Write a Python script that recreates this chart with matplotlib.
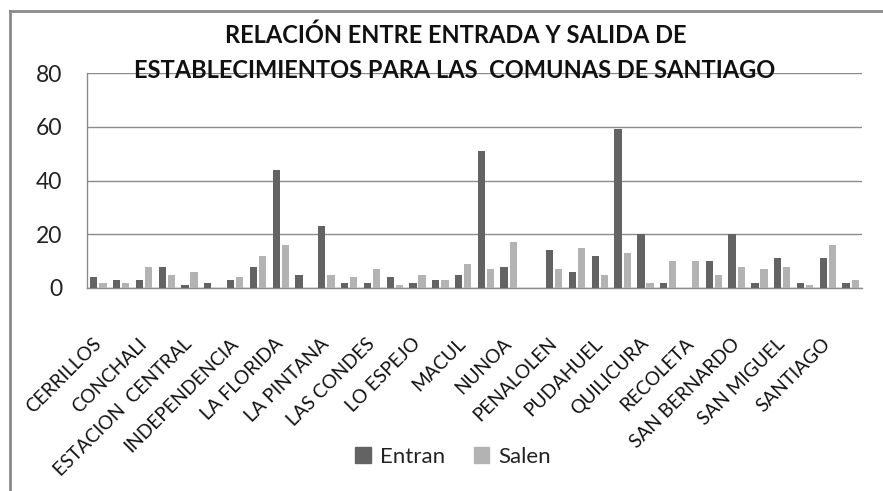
import numpy as np
import matplotlib
matplotlib.use('Agg')
import matplotlib.pyplot as plt
from matplotlib.lines import Line2D
from matplotlib.patches import Patch

plt.rcParams['font.family'] = ['Lato', 'DejaVu Sans']

comunas = ['CERRILLOS', 'CERRO NAVIA', 'CONCHALI', 'EL BOSQUE', 'ESTACION  CENTRAL',
           'HUECHURABA', 'INDEPENDENCIA', 'LA CISTERNA', 'LA FLORIDA', 'LA GRANJA',
           'LA PINTANA', 'LA REINA', 'LAS CONDES', 'LO BARNECHEA', 'LO ESPEJO',
           'LO PRADO', 'MACUL', 'MAIPU', 'NUNOA', 'PEDRO AGUIRRE CERDA',
           'PENALOLEN', 'PROVIDENCIA', 'PUDAHUEL', 'PUENTE ALTO', 'QUILICURA',
           'QUINTA NORMAL', 'RECOLETA', 'RENCA', 'SAN BERNARDO', 'SAN JOAQUIN',
           'SAN MIGUEL', 'SAN RAMON', 'SANTIAGO', 'VITACURA']
entran = [4, 3, 3, 8, 1, 2, 3, 8, 44, 5, 23, 2, 2, 4, 2, 3, 5, 51, 8, 0,
          14, 6, 12, 59, 20, 2, 0, 10, 20, 2, 11, 2, 11, 2]
salen = [2, 2, 8, 5, 6, 0, 4, 12, 16, 0, 5, 4, 7, 1, 5, 3, 9, 7, 17, 0,
         7, 15, 5, 13, 2, 10, 10, 5, 8, 7, 8, 1, 16, 3]
yticks = [0, 20, 40, 60, 80]

W, H = 883, 491
fig = plt.figure(figsize=(W / 100, H / 100), dpi=100)
ax = fig.add_axes([87 / W, 1 - 288 / H, (862 - 87) / W, (288 - 73) / H])

x = np.arange(len(comunas))
bw = 0.32
dark = '#636363'
light = '#b3b3b3'
ax.bar(x - 0.2, entran, width=bw, color=dark, zorder=3)
ax.bar(x + 0.2, salen, width=bw, color=light, zorder=3)

ax.set_xlim(-0.5, len(comunas) - 0.5)
ax.set_ylim(0, 80)
ax.set_yticks(yticks)
ax.set_yticklabels([str(v) for v in yticks], fontsize=16.5, color='#222222')
ax.yaxis.grid(True, color='#8c8c8c', linewidth=1.0, zorder=0)
ax.tick_params(axis='y', length=0, pad=18)

ax.set_xticks(x[::2])
ax.set_xticklabels(comunas[::2], rotation=45, ha='right', va='center',
                   rotation_mode='anchor', fontsize=13.7, color='#111111')
ax.tick_params(axis='x', length=0, pad=38)

for s in ['top', 'right']:
    ax.spines[s].set_visible(False)
for s in ['left', 'bottom']:
    ax.spines[s].set_color('#8c8c8c')
    ax.spines[s].set_linewidth(1.0)

# chart area border (only top and left visible in the crop)
fig.add_artist(Line2D([10 / W, 1.0], [1 - 11 / H, 1 - 11 / H], color='#8a8a8a', linewidth=2))
fig.add_artist(Line2D([10 / W, 10 / W], [0.0, 1 - 11 / H], color='#8a8a8a', linewidth=2))

fig.text(456 / W, 1 - 43 / H, 'RELACIÓN ENTRE ENTRADA Y SALIDA DE', ha='center', va='baseline',
         fontsize=17, fontweight='bold', color='#111111')
fig.text(455 / W, 1 - 77.5 / H, 'ESTABLECIMIENTOS PARA LAS  COMUNAS DE SANTIAGO', ha='center',
         va='baseline', fontsize=17, fontweight='bold', color='#111111')

handles = [Patch(color=dark, label='Entran'), Patch(color=light, label='Salen')]
fig.legend(handles=handles, loc='center', bbox_to_anchor=(453 / W, 1 - 457 / H), ncol=2,
           frameon=False, fontsize=16, handlelength=0.7, handleheight=0.7,
           handletextpad=0.4, columnspacing=1.3, labelcolor='#222222')

fig.savefig('out.png', dpi=100)
